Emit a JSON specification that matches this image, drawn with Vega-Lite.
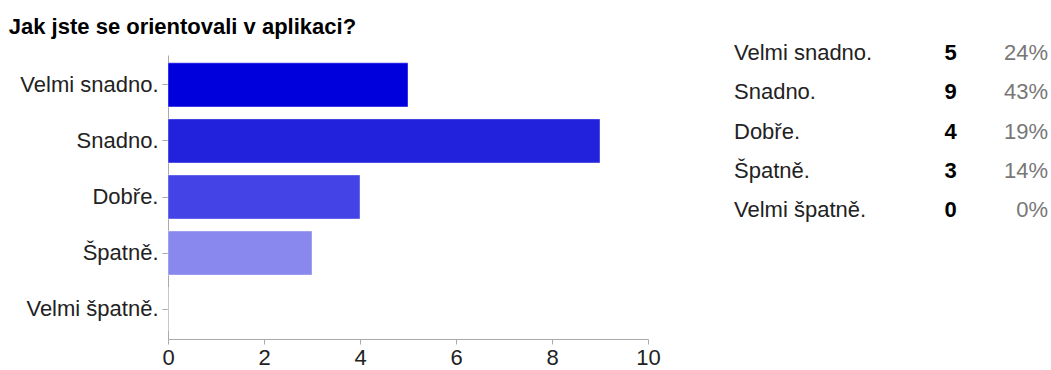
{
  "$schema": "https://vega.github.io/schema/vega-lite/v6.json",
  "background": "white",
  "padding": {"left": 8, "top": 16, "right": 4, "bottom": 0},
  "title": {"text": "Jak jste se orientovali v aplikaci?", "anchor": "start", "frame": "bounds", "font": "Liberation Sans", "fontSize": 22, "fontWeight": "bold", "color": "#000000", "offset": 3, "dx": -11},
  "config": {"view": {"stroke": null}, "font": "Liberation Sans", "concat": {"spacing": 73}},
  "data": {"values": [
    {"answer": "Velmi snadno.", "count": 5, "pct": "24%", "color": "#0000dd"},
    {"answer": "Snadno.", "count": 9, "pct": "43%", "color": "#2222dd"},
    {"answer": "Dobře.", "count": 4, "pct": "19%", "color": "#4444e6"},
    {"answer": "Špatně.", "count": 3, "pct": "14%", "color": "#8888ee"},
    {"answer": "Velmi špatně.", "count": 0, "pct": "0%", "color": "#aaaaf0"}
  ]},
  "hconcat": [
    {
      "width": 480,
      "height": 284,
      "mark": {"type": "bar", "stroke": "#ffffff", "strokeOpacity": 0.4, "strokeWidth": 1},
      "encoding": {
        "y": {"field": "answer", "type": "nominal", "sort": null,
              "scale": {"paddingInner": 0.214, "paddingOuter": 0.14},
              "axis": {"title": null, "labelFontSize": 22, "labelColor": "#222222", "labelPadding": 4, "tickSize": 6, "tickColor": "#aaaaaa", "domainColor": "#aaaaaa", "labelFont": "Liberation Sans"}},
        "x": {"field": "count", "type": "quantitative",
              "scale": {"domain": [0, 10], "nice": false},
              "axis": {"title": null, "values": [0, 2, 4, 6, 8, 10], "grid": false, "labelFontSize": 22, "labelColor": "#222222", "tickSize": 5, "tickColor": "#aaaaaa", "domainColor": "#aaaaaa", "labelPadding": 3, "labelFlush": false}},
        "color": {"field": "color", "type": "nominal", "scale": null, "legend": null}
      }
    },
    {
      "width": 314,
      "height": 157,
      "encoding": {
        "y": {"field": "answer", "type": "nominal", "sort": null, "scale": {"type": "point", "padding": 0}, "axis": null}
      },
      "layer": [
        {
          "mark": {"type": "text", "align": "left", "baseline": "alphabetic", "dy": 5, "fontSize": 22, "color": "#222222"},
          "encoding": {
            "x": {"datum": 0, "type": "quantitative", "scale": {"domain": [0, 100]}, "axis": null},
            "text": {"field": "answer"}
          }
        },
        {
          "mark": {"type": "text", "align": "center", "baseline": "alphabetic", "dy": 5, "fontSize": 22, "fontWeight": "bold", "color": "#000000"},
          "encoding": {
            "x": {"datum": 69, "type": "quantitative"},
            "text": {"field": "count"}
          }
        },
        {
          "mark": {"type": "text", "align": "right", "baseline": "alphabetic", "dy": 5, "fontSize": 22, "color": "#777777"},
          "encoding": {
            "x": {"datum": 100, "type": "quantitative"},
            "text": {"field": "pct"}
          }
        }
      ]
    }
  ]
}
